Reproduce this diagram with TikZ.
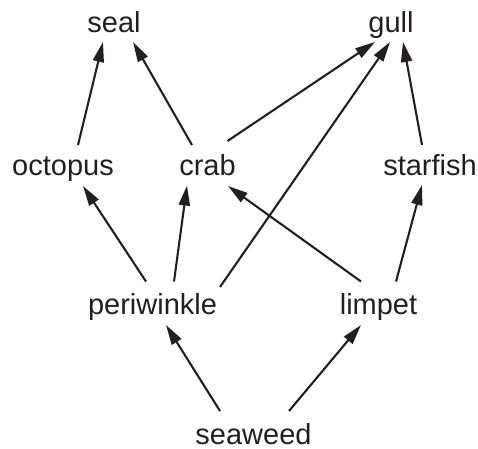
\documentclass[tikz,border=0pt]{standalone}
\usepackage{fontspec}
\setmainfont{Liberation Sans}
\usetikzlibrary{arrows.meta}
\definecolor{ink}{HTML}{231F20}
\begin{document}
\begin{tikzpicture}[x=1pt,y=-1pt,
  lbl/.style={anchor=base,inner sep=0pt,font=\fontsize{29}{34}\selectfont,text=ink},
  arr/.style={draw=ink,line width=2.1pt,-{Triangle[length=20pt,width=11pt]}}]
\useasboundingbox (0,0) rectangle (478,448);
\node[lbl] (seal) at (114,32.5) {seal};
\node[lbl] (gull) at (391,32.5) {gull};
\node[lbl] (octopus) at (63,175) {octopus};
\node[lbl] (crab) at (207.5,175) {crab};
\node[lbl] (starfish) at (430,175) {starfish};
\node[lbl] (periwinkle) at (152.5,314.5) {periwinkle};
\node[lbl] (limpet) at (378.5,314.5) {limpet};
\node[lbl] (seaweed) at (253.5,444) {seaweed};
\draw[arr] ([shift={(15,-30)}]octopus.base) -- ([shift={(-11,9.5)}]seal.base);
\draw[arr] ([shift={(-15.5,-30)}]crab.base) -- ([shift={(19,9.5)}]seal.base);
\draw[arr] ([shift={(20,-34)}]crab.base) -- ([shift={(-16,9.5)}]gull.base);
\draw[arr] ([shift={(67.5,-27.5)}]periwinkle.base) -- ([shift={(-1,9.5)}]gull.base);
\draw[arr] ([shift={(-8,-30)}]starfish.base) -- ([shift={(12,9.5)}]gull.base);
\draw[arr] ([shift={(-6.5,-33)}]periwinkle.base) -- ([shift={(20,11)}]octopus.base);
\draw[arr] ([shift={(21.5,-33)}]periwinkle.base) -- ([shift={(-20.5,10.5)}]crab.base);
\draw[arr] ([shift={(-17.5,-33)}]limpet.base) -- ([shift={(20.5,11)}]crab.base);
\draw[arr] ([shift={(17.5,-33)}]limpet.base) -- ([shift={(-8,10)}]starfish.base);
\draw[arr] ([shift={(-33.5,-33)}]seaweed.base) -- ([shift={(13.5,10.5)}]periwinkle.base);
\draw[arr] ([shift={(35.5,-33)}]seaweed.base) -- ([shift={(-17.5,10.5)}]limpet.base);
\end{tikzpicture}
\end{document}
